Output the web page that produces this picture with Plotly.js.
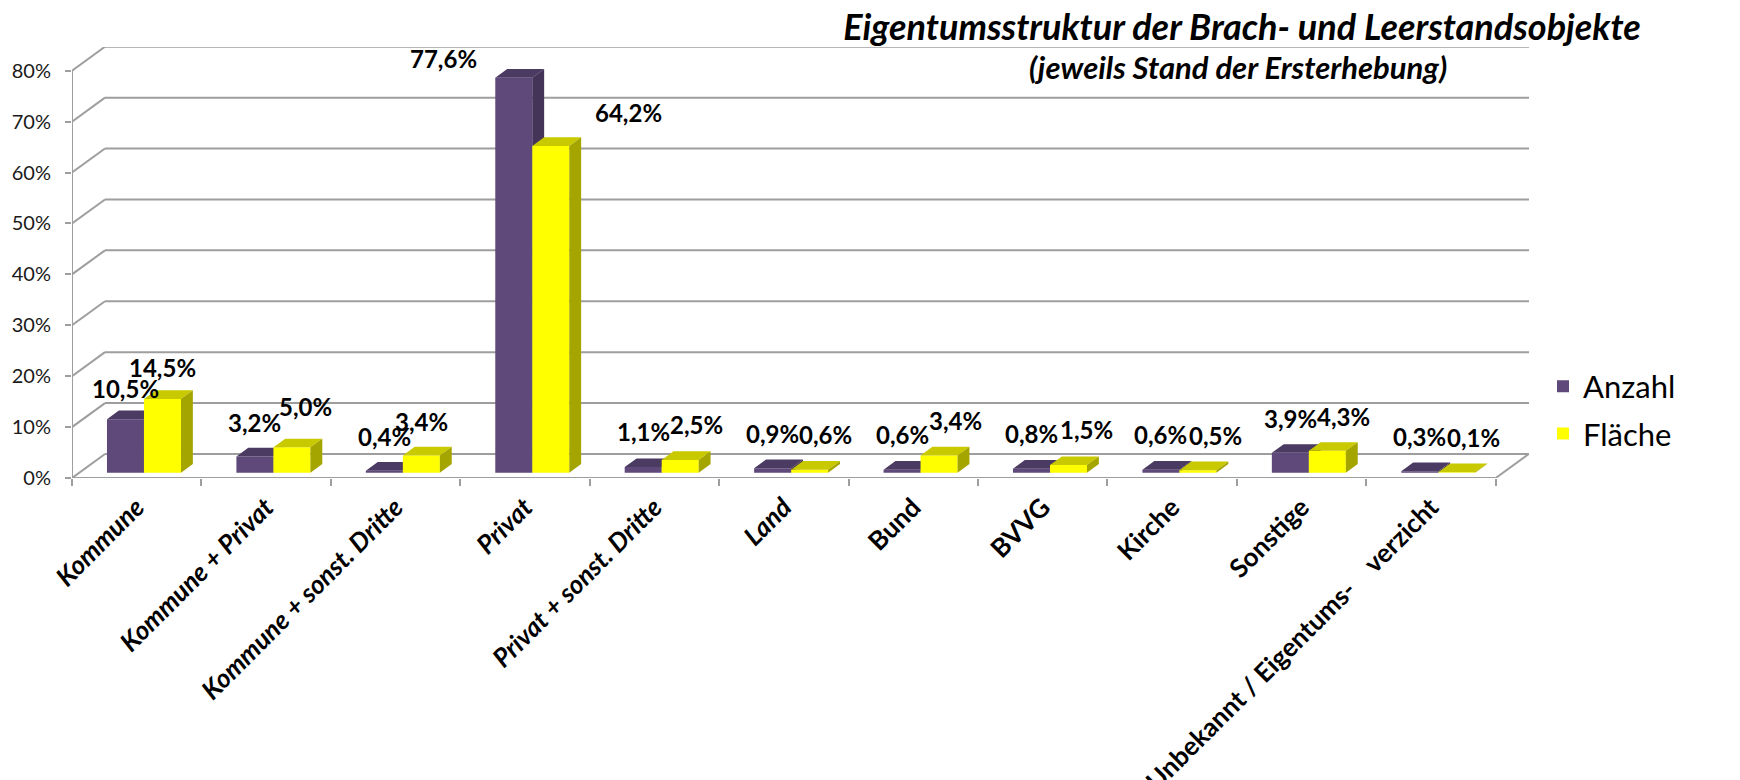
<!DOCTYPE html>
<html>
<head>
<meta charset="utf-8">
<script src="https://cdn.plot.ly/plotly-3.0.1.min.js"></script>
<style>
html, body { margin: 0; padding: 0; background: #ffffff; }
#chart { width: 1740px; height: 780px; }
</style>
</head>
<body>
<div id="chart"></div>
<script>
// ---------------- data ----------------
const categories = [
  'Kommune',
  'Kommune + Privat',
  'Kommune + sonst. Dritte',
  'Privat',
  'Privat + sonst. Dritte',
  'Land',
  'Bund',
  'BVVG',
  'Kirche',
  'Sonstige',
  'Unbekannt / Eigentums-\u00a0\u00a0\u00a0 verzicht'
];
const anzahl  = [10.5, 3.2, 0.4, 77.6, 1.1, 0.9, 0.6, 0.8, 0.6, 3.9, 0.3];
const flaeche = [14.5, 5.0, 3.4, 64.2, 2.5, 0.6, 3.4, 1.5, 0.5, 4.3, 0.1];
const seriesNames = ['Anzahl', 'Fläche'];
const yTickValues = [0, 10, 20, 30, 40, 50, 60, 70, 80];
const titleText = 'Eigentumsstruktur der Brach- und Leerstandsobjekte';
const subtitleText = '(jeweils Stand der Ersterhebung)';

// ---------------- style / geometry ----------------
const FONT = 'Lato, "Open Sans", sans-serif';
const ITALIC_LABELS = 6;              // first six category labels are italic
const COL = {
  a: { front: '#5F497A', top: '#4B3A61', side: '#433458' },
  f: { front: '#FFFF00', top: '#C9C900', side: '#A5A500' }
};
const GRID = '#9E9E9E';
const W = 1740, H = 780, ML = 72, MR = 211, MT = 47, MB = 302;
const PW = W - ML - MR, PH = H - MT - MB;
const PX_CAT = 129.43, PX_PCT = 5.091;
const xRange = [-0.5, -0.5 + PW / PX_CAT];
const yRange = [0, PH / PX_PCT];
const WALL_DX = 33 / PX_CAT, WALL_DY = 24 / PX_PCT;
const FRONT = 0.22, DEPTH = 0.36;
const BW = 37 / PX_CAT;
const OFF = { a: -BW / 2, f: BW / 2 };
// pixel nudges of the value labels (placement only)
const NUDGE_X_A = [0, 0, 0, 0, 0, 0, 0, 0, 0, 0, 0];
const NUDGE_X_F = [0, 14, 0, 0, 16, 16, 16, 18, 18, 16, 17];
const NUDGE_Y_A = [0, 3, 3, 0, 4, 4, 4, 4, 4, 3, 4];
const NUDGE_Y_F = [0, 10, 3, 0, 4, 4, 4, 4, 4, 3, 4];

function geom(values, off) {
  const top = { x: [], y: [] }, side = { x: [], y: [] }, centers = [], xl = [], xr = [];
  const b = FRONT * WALL_DY, ddx = DEPTH * WALL_DX, ddy = DEPTH * WALL_DY;
  values.forEach((v, i) => {
    const c = i + FRONT * WALL_DX + off;
    const l = c - BW / 2, r = c + BW / 2, t = b + v;
    centers.push(c); xl.push(l); xr.push(r);
    top.x.push(l, r, r + ddx, l + ddx, l, null);
    top.y.push(t, t, t + ddy, t + ddy, t, null);
    side.x.push(r, r, r + ddx, r + ddx, r, null);
    side.y.push(b, t, t + ddy, b + ddy, b, null);
  });
  return { top, side, centers, xl, xr, base: b, ddx, ddy };
}

const gA = geom(anzahl, OFF.a);
const gF = geom(flaeche, OFF.f);

function faceTrace(pts, color, xa, ya) {
  return {
    type: 'scatter', mode: 'lines', x: pts.x, y: pts.y, fill: 'toself',
    fillcolor: color, line: { width: 0, color: 'rgba(0,0,0,0)' },
    hoverinfo: 'skip', showlegend: false, xaxis: xa, yaxis: ya
  };
}

const traces = [
  {
    type: 'bar', name: seriesNames[0], x: gA.centers, y: anzahl, base: gA.base,
    width: BW, marker: { color: COL.a.front, line: { width: 0 } },
    xaxis: 'x', yaxis: 'y', legendgroup: 'a'
  },
  faceTrace(gA.top, COL.a.top, 'x', 'y'),
  faceTrace(gA.side, COL.a.side, 'x', 'y'),
  {
    type: 'bar', name: seriesNames[1], x: gF.centers, y: flaeche, base: gF.base,
    width: BW, marker: { color: COL.f.front, line: { width: 0 } },
    xaxis: 'x2', yaxis: 'y2', legendgroup: 'f'
  },
  faceTrace(gF.top, COL.f.top, 'x2', 'y2'),
  faceTrace(gF.side, COL.f.side, 'x2', 'y2')
];

// walls / grid
const shapes = [];
const line = (x0, y0, x1, y1) => shapes.push({
  type: 'line', xref: 'x', yref: 'y', x0, y0, x1, y1, layer: 'below',
  line: { color: GRID, width: 2 }
});
yTickValues.forEach(v => {
  line(-0.5, v, -0.5 + WALL_DX, v + WALL_DY);
  line(-0.5 + WALL_DX, v + WALL_DY, xRange[1], v + WALL_DY);
});
line(-0.5, 0, -0.5, yTickValues[yTickValues.length - 1]);
line(-0.5, 0, categories.length - 0.5, 0);
line(categories.length - 0.5, 0, categories.length - 0.5 + WALL_DX, WALL_DY);

// data labels
const fmt = v => v.toFixed(1).replace('.', ',') + '%';
const labelFont = { family: FONT, size: 24, color: '#000', weight: 700 };
const annotations = [];
function addLabels(values, g, nx, ny, special) {
  values.forEach((v, i) => {
    const sp = special[i];
    const a = {
      xref: 'x', yref: 'y', text: fmt(v), showarrow: false, font: labelFont,
      x: g.centers[i], y: g.base + v + g.ddy, xanchor: 'center', yanchor: 'bottom',
      xshift: nx[i], yshift: 6 + ny[i]
    };
    if (sp) Object.assign(a, sp(g, i, v));
    annotations.push(a);
  });
}
const specialA = {
  3: (g, i) => ({ x: g.xl[i], xanchor: 'right', xshift: -16, yanchor: 'middle', yshift: 11 })
};
const specialF = {
  3: (g, i) => ({ x: g.xr[i] + g.ddx, xanchor: 'left', xshift: 12, yanchor: 'middle', yshift: 25 })
};
addLabels(anzahl, gA, NUDGE_X_A, NUDGE_Y_A, specialA);
addLabels(flaeche, gF, NUDGE_X_F, NUDGE_Y_F, specialF);

annotations.push({
  xref: 'paper', yref: 'paper', x: (1238 - ML) / PW, y: (H - MB - 67) / PH,
  xanchor: 'center', yanchor: 'middle', showarrow: false,
  text: '<i>' + subtitleText + '</i>',
  font: { family: FONT, size: 31, color: '#000', weight: 700 }
});

const tickText = categories.map((c, i) => i < ITALIC_LABELS ? '<i>' + c + '</i>' : c);

const layout = {
  width: W, height: H,
  margin: { l: ML, r: MR, t: MT, b: MB, pad: 0 },
  paper_bgcolor: '#ffffff', plot_bgcolor: 'rgba(0,0,0,0)',
  font: { family: FONT, color: '#000' },
  barmode: 'overlay',
  title: {
    text: '<i>' + titleText + '</i>',
    font: { family: FONT, size: 36, color: '#000', weight: 700 },
    x: 1242 / W, xanchor: 'center', xref: 'container',
    y: 1 - 27 / H, yanchor: 'middle', yref: 'container'
  },
  xaxis: {
    type: 'linear', range: xRange, fixedrange: true, showgrid: false, zeroline: false,
    showline: false, automargin: false,
    tickmode: 'array', tickvals: categories.map((_, i) => i), ticktext: tickText,
    tickangle: -45, ticks: '', ticklabelstandoff: 8,
    tickfont: { family: FONT, size: 26, color: '#000', weight: 700 },
    minor: {
      tickmode: 'array', tickvals: categories.map((_, i) => i - 0.5).concat([categories.length - 0.5]),
      ticks: 'outside', ticklen: 7, tickwidth: 2, tickcolor: GRID, showgrid: false
    }
  },
  yaxis: {
    type: 'linear', range: yRange, fixedrange: true, showgrid: false, zeroline: false,
    showline: false, automargin: false,
    tickmode: 'array', tickvals: yTickValues, ticktext: yTickValues.map(v => v + '%'),
    ticks: 'outside', ticklen: 6, tickwidth: 2, tickcolor: GRID, ticklabelstandoff: 10,
    tickfont: { family: FONT, size: 20, color: '#1a1a1a' }
  },
  xaxis2: { overlaying: 'x', range: xRange, visible: false, fixedrange: true },
  yaxis2: { overlaying: 'y', range: yRange, visible: false, fixedrange: true },
  showlegend: true,
  legend: {
    x: (1543 - ML) / PW, xanchor: 'left', y: (H - MB - 410) / PH, yanchor: 'middle',
    font: { family: FONT, size: 31, color: '#000' },
    traceorder: 'grouped', tracegroupgap: 4, bgcolor: 'rgba(0,0,0,0)'
  },
  shapes, annotations
};

Plotly.newPlot('chart', traces, layout, { displayModeBar: false, staticPlot: true });
</script>
</body>
</html>
